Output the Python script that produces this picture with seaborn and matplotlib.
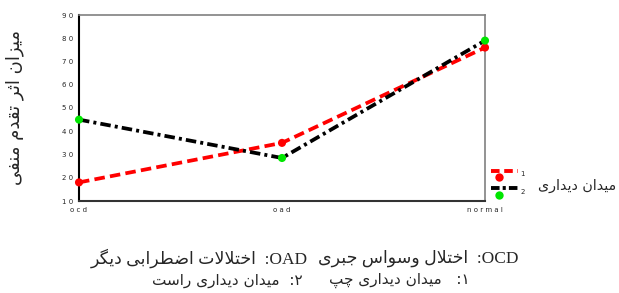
import pandas as pd
import matplotlib
matplotlib.use("Agg")
import matplotlib.pyplot as plt
import seaborn as sns
from matplotlib.lines import Line2D
from matplotlib.legend_handler import HandlerBase

sns.set_style("white")
plt.rcParams['font.family'] = ['DejaVu Sans']

# data
groups = ["ocd", "oad", "normal"]
group_labels = ["o c d", "o a d", "n o r m a l"]
left_field = [18, 35, 76]      # 1: left visual field
right_field = [45, 28.5, 79]   # 2: right visual field
yticks = [10, 20, 30, 40, 50, 60, 70, 80, 90]
yticklabels = ["1 0", "2 0", "3 0", "4 0", "5 0", "6 0", "7 0", "8 0", "9 0"]

ylabel_fa = "میزان اثر تقدم منفی"
legend_title_fa = "میدان دیداری"
ocd_fa = "اختلال وسواس جبری"
oad_fa = "اختلالات اضطرابی دیگر"
left_fa = "میدان دیداری چپ"
right_fa = "میدان دیداری راست"

# minimal persian shaping (matplotlib has no rtl/joining support)
FORMS = {
    'ا': ('\ufe8d', '\ufe8e'),
    'ب': ('\ufe8f', '\ufe90', '\ufe91', '\ufe92'),
    'پ': ('\ufb56', '\ufb57', '\ufb58', '\ufb59'),
    'ت': ('\ufe95', '\ufe96', '\ufe97', '\ufe98'),
    'ث': ('\ufe99', '\ufe9a', '\ufe9b', '\ufe9c'),
    'ج': ('\ufe9d', '\ufe9e', '\ufe9f', '\ufea0'),
    'چ': ('\ufb7a', '\ufb7b', '\ufb7c', '\ufb7d'),
    'خ': ('\ufea5', '\ufea6', '\ufea7', '\ufea8'),
    'د': ('\ufea9', '\ufeaa'),
    'ر': ('\ufead', '\ufeae'),
    'ز': ('\ufeaf', '\ufeb0'),
    'س': ('\ufeb1', '\ufeb2', '\ufeb3', '\ufeb4'),
    'ض': ('\ufebd', '\ufebe', '\ufebf', '\ufec0'),
    'ط': ('\ufec1', '\ufec2', '\ufec3', '\ufec4'),
    'ف': ('\ufed1', '\ufed2', '\ufed3', '\ufed4'),
    'ق': ('\ufed5', '\ufed6', '\ufed7', '\ufed8'),
    'گ': ('\ufb92', '\ufb93', '\ufb94', '\ufb95'),
    'ل': ('\ufedd', '\ufede', '\ufedf', '\ufee0'),
    'م': ('\ufee1', '\ufee2', '\ufee3', '\ufee4'),
    'ن': ('\ufee5', '\ufee6', '\ufee7', '\ufee8'),
    'و': ('\ufeed', '\ufeee'),
    'ی': ('\ufeef', '\ufef0', '\ufef3', '\ufef4'),
}


def joins_left(c):
    return c in FORMS and len(FORMS[c]) == 4


def fa(s):
    res = []
    i = 0
    n = len(s)
    while i < n:
        c = s[i]
        if c not in FORMS:
            res.append(c)
            i += 1
            continue
        p = i > 0 and joins_left(s[i - 1])
        if c == 'ل' and i + 1 < n and s[i + 1] == 'ا':
            res.append('\ufefc' if p else '\ufefb')
            i += 2
            continue
        q = i + 1 < n and s[i + 1] in FORMS and joins_left(c)
        f = FORMS[c]
        if p and q:
            g = f[3]
        elif p:
            g = f[1]
        elif q:
            g = f[2]
        else:
            g = f[0]
        res.append(g)
        i += 1
    return ''.join(res)[::-1]


# legend entry: dashed line on top, dot underneath (old spss style)
class SplitHandler(HandlerBase):
    def __init__(self, line_color, dashes, dot_color):
        super().__init__()
        self.line_color = line_color
        self.dashes = dashes
        self.dot_color = dot_color

    def create_artists(self, legend, orig_handle, xdescent, ydescent, width, height,
                       fontsize, trans):
        y0 = height * 1.15 - ydescent
        line = Line2D([-xdescent, width - xdescent], [y0, y0], color=self.line_color,
                      lw=2.8, dashes=self.dashes, solid_capstyle="butt")
        dot = Line2D([width * 0.3 - xdescent], [y0 - 5.0], marker="o",
                     markersize=6, color=self.dot_color, markeredgewidth=0, lw=0)
        line.set_transform(trans)
        dot.set_transform(trans)
        return [line, dot]


df = pd.DataFrame({
    "group": groups * 2,
    "value": left_field + right_field,
    "field": ["1"] * 3 + ["2"] * 3,
})

fig = plt.figure(figsize=(6.19, 2.93), dpi=100)
ax = fig.add_axes([79 / 619, 1 - 201 / 293, 406 / 619, 186 / 293])

sns.lineplot(data=df, x="group", y="value", hue="field", style="field",
             palette={"1": "#ff0000", "2": "#000000"},
             dashes={"1": (2.8, 1.4), "2": (2.8, 1.1, 0.8, 1.1)},
             linewidth=2.7, legend=False, ax=ax, zorder=3)
sns.scatterplot(data=df, x="group", y="value", hue="field",
                palette={"1": "#ff0000", "2": "#00e600"},
                s=34, linewidth=0, legend=False, ax=ax, zorder=4, clip_on=False)

ax.set_xlim(0, 2)
ax.set_ylim(10, 90)
ax.set_yticks(yticks)
ax.set_yticklabels(yticklabels)
ax.set_xticks(range(len(groups)))
ax.set_xticklabels(group_labels)
ax.set_xlabel("")
ax.set_ylabel("")
ax.tick_params(axis="y", direction="out", length=3, width=2.5, color="black",
               labelsize=5, pad=1.5)
ax.tick_params(axis="x", direction="out", length=2, width=1.5, color="#333333",
               labelsize=5, pad=2)
for side in ["top", "right"]:
    ax.spines[side].set_color("#808080")
    ax.spines[side].set_linewidth(1.2)
ax.spines["left"].set_color("black")
ax.spines["left"].set_linewidth(1.5)
ax.spines["bottom"].set_color("#333333")
ax.spines["bottom"].set_linewidth(1.5)

h1 = Line2D([], [], color="#ff0000")
h2 = Line2D([], [], color="#000000")
fig.legend([h1, h2], ["1", "2"], loc="center left",
           bbox_to_anchor=(486 / 619, 1 - 183 / 293),
           handler_map={h1: SplitHandler("#ff0000", (2.2, 1.2), "#ff0000"),
                        h2: SplitHandler("#000000", (2.2, 0.8, 0.8, 0.8), "#00e600")},
           frameon=False, fontsize=5, handlelength=3.9, handletextpad=0.3,
           labelspacing=1.7, borderpad=0.2)
fig.text(616 / 619, 1 - 186 / 293, fa(legend_title_fa), ha="right", va="center", fontsize=10.3)

fig.text(15 / 619, 1 - 108 / 293, fa(ylabel_fa), rotation=90, ha="center", va="center",
         fontsize=13)

mixed = ["Liberation Serif", "DejaVu Sans"]
fig.text(519 / 619, 1 - 258 / 293, fa(ocd_fa) + "  :OCD", ha="right", va="center",
         fontsize=12.5, family=mixed)
fig.text(308 / 619, 1 - 258 / 293, fa(oad_fa) + "  :OAD", ha="right", va="center",
         fontsize=12.5, family=mixed)
fig.text(470 / 619, 1 - 280 / 293, fa(left_fa) + "   :\u06f1", ha="right", va="center",
         fontsize=11)
fig.text(303 / 619, 1 - 280 / 293, fa(right_fa) + "  :\u06f2", ha="right", va="center",
         fontsize=11)

fig.savefig("out.png", dpi=100)
